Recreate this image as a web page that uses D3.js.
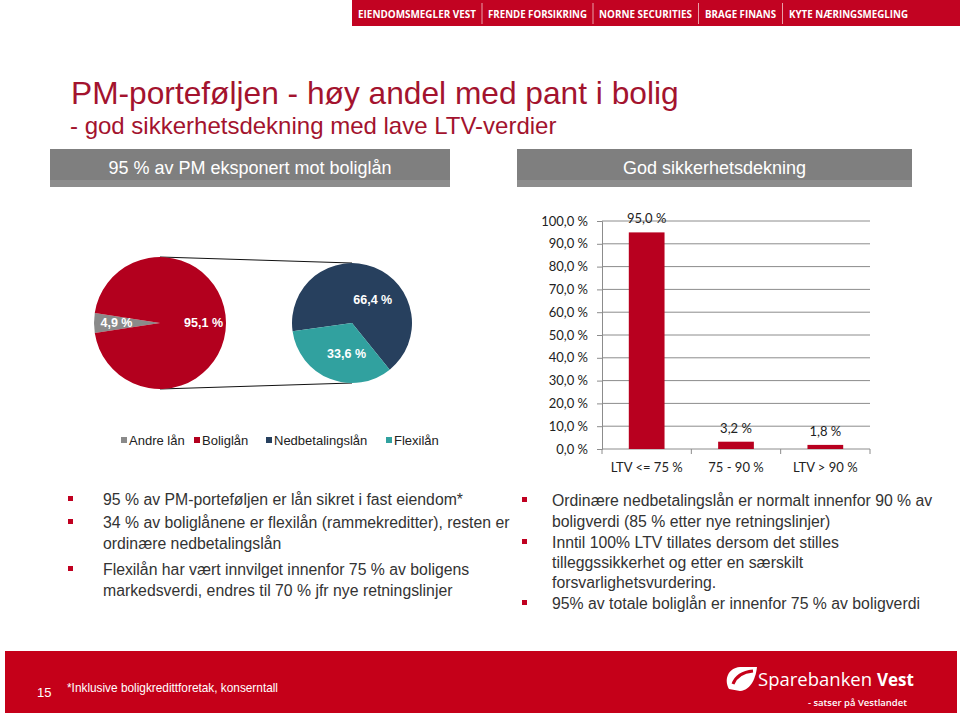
<!DOCTYPE html>
<html><head><meta charset="utf-8">
<script src="https://cdn.jsdelivr.net/npm/d3@7"></script>
<style>body{margin:0;background:#fff}svg{display:block}</style>
</head><body><script>
// ---------- data ----------
const bannerItems = ["EIENDOMSMEGLER VEST","FRENDE FORSIKRING","NORNE SECURITIES","BRAGE FINANS","KYTE NÆRINGSMEGLING"];
const titleText = "PM-porteføljen - høy andel med pant i bolig";
const subtitleText = "- god sikkerhetsdekning med lave LTV-verdier";
const panelTitles = ["95 % av PM eksponert mot boliglån","God sikkerhetsdekning"];
const mainPieCategories = ["Andre lån","Boliglån"];
const mainPieValues = [4.9, 95.1];
const subPieCategories = ["Nedbetalingslån","Flexilån"];
const subPieValues = [66.4, 33.6];
const legendCategories = ["Andre lån","Boliglån","Nedbetalingslån","Flexilån"];
const ltvCategories = ["LTV <= 75 %","75 - 90 %","LTV > 90 %"];
const ltvValues = [95.0, 3.2, 1.8];
const yTickValues = [0,10,20,30,40,50,60,70,80,90,100];
const leftBullets = [
  ["95 % av PM-porteføljen er lån sikret i fast eiendom*"],
  ["34 % av boliglånene er flexilån (rammekreditter), resten er","ordinære nedbetalingslån"],
  ["Flexilån har vært innvilget innenfor 75 % av boligens","markedsverdi, endres til 70 % jfr nye retningslinjer"]
];
const rightBullets = [
  ["Ordinære nedbetalingslån er normalt innenfor 90 % av","boligverdi (85 % etter nye retningslinjer)"],
  ["Inntil 100% LTV tillates dersom det stilles","tilleggssikkerhet og etter en særskilt","forsvarlighetsvurdering."],
  ["95% av totale boliglån er innenfor 75 % av boligverdi"]
];
const footnote = "*Inklusive boligkredittforetak, konserntall";
const pageNumber = "15";

// ---------- style ----------
const RED = "#c20322", BAR = "#b8001f", PIE_RED = "#b3001e", GRAY = "#8a8a8a", NAVY = "#27405e", TEAL = "#31a19f";
const colorMap = {"Andre lån":GRAY,"Boliglån":PIE_RED,"Nedbetalingslån":NAVY,"Flexilån":TEAL};
const SANS = "'Liberation Sans', Arial, sans-serif";
const CAL = "Lato, 'Open Sans', sans-serif";

const svg = d3.select("body").append("svg").attr("width",960).attr("height",716);
svg.append("rect").attr("width",960).attr("height",716).attr("fill","#fff");

// ---------- top banner ----------
svg.append("rect").attr("x",352).attr("y",0).attr("width",608).attr("height",26).attr("fill",RED);
const bx0 = [358,488,599,705,789], bx1 = [476,587,692,776,908];
bannerItems.forEach((t,i)=>{
  svg.append("text").attr("x",bx0[i]).attr("y",18).text(t)
    .attr("textLength",bx1[i]-bx0[i]).attr("lengthAdjust","spacingAndGlyphs")
    .attr("fill","#fff").attr("font-family","'Open Sans', sans-serif").attr("font-weight",700).attr("font-size",11);
  if(i>0){
    const sx=(bx1[i-1]+bx0[i])/2;
    svg.append("line").attr("x1",sx).attr("x2",sx).attr("y1",3).attr("y2",24).attr("stroke","#e9a0a8").attr("stroke-width",1);
  }
});

// ---------- title ----------
svg.append("text").attr("x",71).attr("y",104).text(titleText).attr("fill","#a3132e")
  .attr("font-family",SANS).attr("font-size",31.7);
svg.append("text").attr("x",70).attr("y",134).text(subtitleText).attr("fill","#a3132e")
  .attr("font-family",SANS).attr("font-size",24);

// ---------- panel headers ----------
[[50,450],[517,912]].forEach(([a,b],i)=>{
  svg.append("rect").attr("x",a).attr("y",149).attr("width",b-a).attr("height",38).attr("fill","#7f7f7f");
  svg.append("rect").attr("x",a).attr("y",180).attr("width",b-a).attr("height",7).attr("fill","#8d8d8d");
  svg.append("text").attr("x",(a+b)/2).attr("y",174).attr("text-anchor","middle").text(panelTitles[i])
    .attr("fill","#fff").attr("font-family",SANS).attr("font-size",18);
});

// ---------- pies ----------
const c1 = {x:160,y:323,r:66}, c2 = {x:352,y:323,r:60};
svg.append("line").attr("x1",c1.x).attr("y1",c1.y-c1.r).attr("x2",c2.x).attr("y2",c2.y-c2.r).attr("stroke","#111").attr("stroke-width",1);
svg.append("line").attr("x1",c1.x).attr("y1",c1.y+c1.r).attr("x2",c2.x).attr("y2",c2.y+c2.r).attr("stroke","#111").attr("stroke-width",1);

const fmt = v => v.toFixed(1).replace(".",",")+" %";
const mainData = mainPieCategories.map((c,i)=>({cat:c,value:mainPieValues[i]}));
const gAngle = mainPieValues[0]/100*Math.PI;
const pie1 = d3.pie().sort(null).value(d=>d.value).startAngle(1.5*Math.PI-gAngle).endAngle(3.5*Math.PI-gAngle);
const arc1 = d3.arc().innerRadius(0).outerRadius(c1.r);
const lab1 = d3.arc().innerRadius(c1.r*0.66).outerRadius(c1.r*0.66);
const g1 = svg.append("g").attr("transform",`translate(${c1.x},${c1.y})`);
const arcs1 = pie1(mainData);
g1.selectAll("path").data(arcs1).join("path").attr("d",arc1).attr("fill",d=>colorMap[d.data.cat]);
g1.selectAll("text").data(arcs1).join("text")
  .attr("transform",d=>`translate(${lab1.centroid(d)})`).attr("text-anchor","middle").attr("dy","0.35em")
  .text(d=>fmt(d.data.value)).attr("fill","#fff").attr("font-family",SANS).attr("font-weight","bold").attr("font-size",12.5);

const subData = subPieCategories.map((c,i)=>({cat:c,value:subPieValues[i]}));
const st2 = 262/180*Math.PI;
const pie2 = d3.pie().sort(null).value(d=>d.value).startAngle(st2).endAngle(st2+2*Math.PI);
const arc2 = d3.arc().innerRadius(0).outerRadius(c2.r);
const g2 = svg.append("g").attr("transform",`translate(${c2.x},${c2.y})`);
const arcs2 = pie2(subData);
g2.selectAll("path").data(arcs2).join("path").attr("d",arc2).attr("fill",d=>colorMap[d.data.cat]);
g2.selectAll("text").data(arcs2).join("text")
  .attr("transform",d=>{const a=(d.startAngle+d.endAngle)/2 + (d.index===0?0.35:-0.2); const rr=c2.r*0.52; return `translate(${rr*Math.sin(a)},${-rr*Math.cos(a)})`;})
  .attr("text-anchor","middle").attr("dy","0.35em")
  .text(d=>fmt(d.data.value)).attr("fill","#fff").attr("font-family",SANS).attr("font-weight","bold").attr("font-size",12.5);

// legend
const legX = [121,194,266,386];
legendCategories.forEach((c,i)=>{
  svg.append("rect").attr("x",legX[i]).attr("y",437).attr("width",6).attr("height",6).attr("fill",colorMap[c]);
  svg.append("text").attr("x",legX[i]+8).attr("y",445).text(c).attr("fill","#222")
    .attr("font-family",SANS).attr("font-size",13);
});

// ---------- bar chart ----------
const x = d3.scaleBand().domain(ltvCategories).range([602,870]).padding(0);
const y = d3.scaleLinear().domain([0,100]).range([449,221]);
const gb = svg.append("g");
gb.selectAll("line.grid").data(yTickValues.filter(v=>v>0)).join("line").attr("class","grid")
  .attr("x1",602).attr("x2",870).attr("y1",d=>y(d)).attr("y2",d=>y(d)).attr("stroke","#8c8c8c").attr("stroke-width",1);
const yAxis = gb.append("g").attr("transform","translate(602,0)")
  .call(d3.axisLeft(y).tickValues(yTickValues).tickFormat(fmt).tickSize(5).tickPadding(9));
yAxis.select(".domain").attr("stroke","#8c8c8c");
yAxis.selectAll(".tick line").attr("stroke","#8c8c8c");
yAxis.selectAll("text").attr("font-family",CAL).attr("font-size",13).attr("fill","#222");
const xAxis = gb.append("g").attr("transform","translate(0,449)")
  .call(d3.axisBottom(x).tickSize(0).tickPadding(14));
xAxis.select(".domain").attr("stroke","#8c8c8c").attr("d","M602,0H870");
xAxis.selectAll("text").attr("font-family",CAL).attr("font-size",13).attr("fill","#222");
const bounds = x.domain().map(d=>x(d)).concat([x.range()[1]]);
gb.selectAll("line.xt").data(bounds).join("line").attr("class","xt")
  .attr("x1",d=>d).attr("x2",d=>d).attr("y1",449).attr("y2",454).attr("stroke","#8c8c8c");
const bw = x.bandwidth()*0.4;
gb.selectAll("rect.bar").data(ltvValues).join("rect").attr("class","bar")
  .attr("x",(d,i)=>x(ltvCategories[i])+x.bandwidth()/2-bw/2).attr("width",bw)
  .attr("y",d=>y(d)).attr("height",d=>y(0)-y(d)).attr("fill",BAR);
gb.selectAll("text.vl").data(ltvValues).join("text").attr("class","vl")
  .attr("x",(d,i)=>x(ltvCategories[i])+x.bandwidth()/2).attr("y",d=>y(d)-9).attr("text-anchor","middle")
  .text(fmt).attr("font-family",CAL).attr("font-size",13).attr("fill","#222");

// ---------- bullets ----------
function bullets(list, bx, tx, baselines){
  let k=0;
  list.forEach(lines=>{
    lines.forEach((ln,j)=>{
      const yy = baselines[k++];
      if(j===0) svg.append("rect").attr("x",bx).attr("y",yy-9).attr("width",5).attr("height",5).attr("fill","#c00020");
      svg.append("text").attr("x",tx).attr("y",yy).text(ln).attr("fill","#333").attr("font-family",SANS).attr("font-size",15.8);
    });
  });
}
bullets(leftBullets, 68, 103, [505,528,549,575,596]);
bullets(rightBullets, 522, 552, [506,527,548,568,588,609]);

// ---------- footer ----------
svg.append("rect").attr("x",5).attr("y",651).attr("width",952).attr("height",62).attr("fill","#c50019");
svg.append("text").attr("x",37).attr("y",697).text(pageNumber).attr("fill","#fff").attr("font-family",SANS).attr("font-size",13);
svg.append("text").attr("x",67).attr("y",692).text(footnote).attr("textLength",211).attr("lengthAdjust","spacingAndGlyphs")
  .attr("fill","#fff").attr("font-family",SANS).attr("font-size",13);
// logo
svg.append("path").attr("d","M729,689 C724,681 727,668 740,667 L757,667 C756,676 752,690 740,691 Z").attr("fill","#fff");
svg.append("path").attr("d","M733,684 C736,676 743,672 753,671").attr("stroke","#c50019").attr("stroke-width",3).attr("fill","none");
svg.append("text").attr("x",758).attr("y",686).text("Sparebanken").attr("fill","#fff")
  .attr("font-family","'Open Sans', sans-serif").attr("font-size",18.5);
svg.append("text").attr("x",877).attr("y",686).text("Vest").attr("fill","#fff")
  .attr("font-family","'Open Sans', sans-serif").attr("font-weight",700).attr("font-size",17);
svg.append("text").attr("x",907).attr("y",706).attr("text-anchor","end").text("- satser på Vestlandet")
  .attr("fill","#fff").attr("font-family","'Open Sans', sans-serif").attr("font-weight",600).attr("font-size",9.5);
</script></body></html>
